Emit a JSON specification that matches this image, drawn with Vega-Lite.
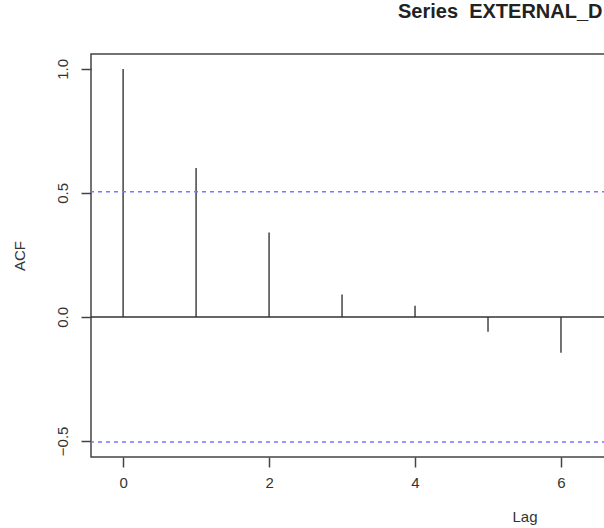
{
  "$schema": "https://vega.github.io/schema/vega-lite/v6.json",
  "autosize": "none",
  "padding": {"left": 91, "top": 54, "right": 0, "bottom": 71},
  "width": 867,
  "height": 403,
  "background": "white",
  "config": {
    "font": "Liberation Sans",
    "view": {"stroke": "#444", "strokeWidth": 1.5},
    "axis": {"grid": false, "domain": false, "tickColor": "#444", "tickWidth": 1.5, "tickSize": 10,
             "labelFont": "Liberation Sans", "labelFontSize": 15, "labelColor": "#333",
             "titleFont": "Liberation Sans", "titleFontSize": 15, "titleFontWeight": "normal", "titleColor": "#333"}
  },
  "title": {"text": "Series\u00a0\u00a0EXTERNAL_D", "anchor": "start", "frame": "group", "dx": 307, "offset": 16, "baseline": "alphabetic",
            "font": "Liberation Sans", "fontSize": 20, "fontWeight": "bold", "color": "#222"},
  "datasets": {
    "acf": [
      {"lag": 0, "acf": 1.0},
      {"lag": 1, "acf": 0.60},
      {"lag": 2, "acf": 0.34},
      {"lag": 3, "acf": 0.09},
      {"lag": 4, "acf": 0.045},
      {"lag": 5, "acf": -0.06},
      {"lag": 6, "acf": -0.145}
    ],
    "ci": [{"y": 0.505}, {"y": -0.505}],
    "zero": [{"y": 0}]
  },
  "layer": [
    {
      "data": {"name": "acf"},
      "mark": {"type": "rule", "color": "#444", "strokeWidth": 1.5},
      "encoding": {
        "x": {"field": "lag", "type": "quantitative", "scale": {"domain": [-0.44, 11.44], "nice": false, "zero": false},
              "axis": {"values": [0, 2, 4, 6], "title": "Lag", "labelPadding": 8, "titlePadding": 19}},
        "y": {"field": "acf", "type": "quantitative", "scale": {"domain": [-0.565, 1.06], "nice": false, "zero": false},
              "axis": {"values": [-0.5, 0, 0.5, 1], "format": ".1f", "title": "ACF", "labelAngle": -90,
                       "labelAlign": "center", "labelBaseline": "alphabetic", "labelPadding": 14, "titlePadding": 28}},
        "y2": {"datum": 0}
      }
    },
    {
      "data": {"name": "zero"},
      "mark": {"type": "rule", "color": "#333", "strokeWidth": 1.5},
      "encoding": {"y": {"field": "y", "type": "quantitative"}}
    },
    {
      "data": {"name": "ci"},
      "mark": {"type": "rule", "color": "#7777ff", "strokeWidth": 1.5, "strokeDash": [4, 4]},
      "encoding": {"y": {"field": "y", "type": "quantitative"}}
    }
  ]
}
